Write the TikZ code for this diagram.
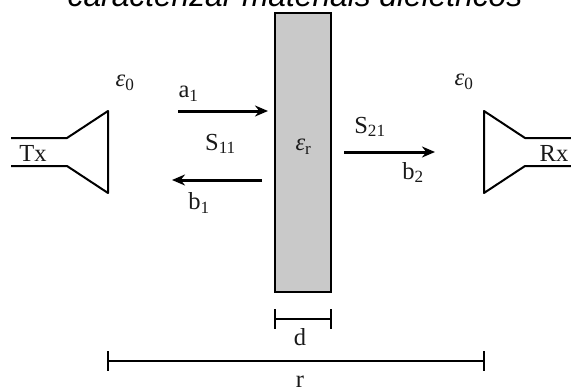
\documentclass[tikz,border=0pt]{standalone}
\usepackage{fontspec}
\setmainfont{Liberation Serif}
\newfontfamily\titlefont{Liberation Sans}
\usetikzlibrary{arrows.meta}
\tikzset{
  x=1pt,y=-1pt,
  lbl/.style={inner sep=0pt,font=\fontsize{24.5}{26}\selectfont,text=black!90},
  horn/.style={line width=2pt,line join=round},
  wave/.style={line width=3pt,-{Stealth[length=13pt,width=11pt]}},
  dim/.style={line width=2pt}
}
\newcommand{\subs}[1]{\textsubscript{#1}}
\newcommand{\eps}{\textit{ε}}
\begin{document}
\begin{tikzpicture}
\useasboundingbox (0,0) rectangle (571,388);
\begin{scope}
\clip (0,0) rectangle (571,388);
\node[font=\titlefont\itshape\fontsize{31.7}{34}\selectfont,inner sep=0pt,anchor=base] (title) at (295,6) {caracterizar materiais dielétricos};
\end{scope}
% slab
\node[draw=black,line width=2.4pt,fill=black!21,minimum width=56pt,minimum height=279pt,inner sep=0pt] (slab) at (303,152.5) {};
\node[lbl] (er) at (303.5,147) {\eps\subs{r}};
% left horn
\coordinate (t1) at (11,138);
\coordinate (t2) at (67,138);
\coordinate (t3) at (108,111);
\coordinate (t4) at (108,193);
\coordinate (t5) at (67,166);
\coordinate (t6) at (11,166);
\draw[horn] (t1) -- (t2) -- (t3) -- (t4) -- (t5) -- (t6);
\node[lbl] (tx) at (33,153) {Tx};
% right horn
\coordinate (r1) at (571,138);
\coordinate (r2) at (525,138);
\coordinate (r3) at (484,111);
\coordinate (r4) at (484,193);
\coordinate (r5) at (525,166);
\coordinate (r6) at (571,166);
\draw[horn] (r1) -- (r2) -- (r3) -- (r4) -- (r5) -- (r6);
\node[lbl] (rx) at (554,153) {Rx};
% permittivity
\node[lbl] (e0l) at (125,83) {\eps\subs{0}};
\node[lbl] (e0r) at (464,82) {\eps\subs{0}};
% waves
\coordinate (a1s) at (178,111);
\coordinate (a1e) at (268,111);
\draw[wave] (a1s) -- (a1e);
\coordinate (b1s) at (262,180);
\coordinate (b1e) at (172,180);
\draw[wave] (b1s) -- (b1e);
\coordinate (b2s) at (344,152);
\coordinate (b2e) at (435,152);
\draw[wave] (b2s) -- (b2e);
\node[lbl] (a1) at (188.5,94) {a\subs{1}};
\node[lbl] (s11) at (220.5,144) {S\subs{11}};
\node[lbl] (b1) at (199,203) {b\subs{1}};
\node[lbl] (s21) at (370,127) {S\subs{21}};
\node[lbl] (b2) at (413,172.5) {b\subs{2}};
% dims
\coordinate (d1) at (275,319);
\coordinate (d2) at (331,319);
\coordinate (d1a) at (275,309);
\coordinate (d1b) at (275,329);
\coordinate (d2a) at (331,309);
\coordinate (d2b) at (331,329);
\draw[dim] (d1) -- (d2) (d1a) -- (d1b) (d2a) -- (d2b);
\node[lbl] (d) at (300,337) {d};
\coordinate (r1d) at (108,361);
\coordinate (r2d) at (484,361);
\coordinate (r1a) at (108,351);
\coordinate (r1b) at (108,371);
\coordinate (r2a) at (484,351);
\coordinate (r2b) at (484,371);
\draw[dim] (r1d) -- (r2d) (r1a) -- (r1b) (r2a) -- (r2b);
\node[lbl] (r) at (300,381.5) {r};
\end{tikzpicture}
\end{document}
